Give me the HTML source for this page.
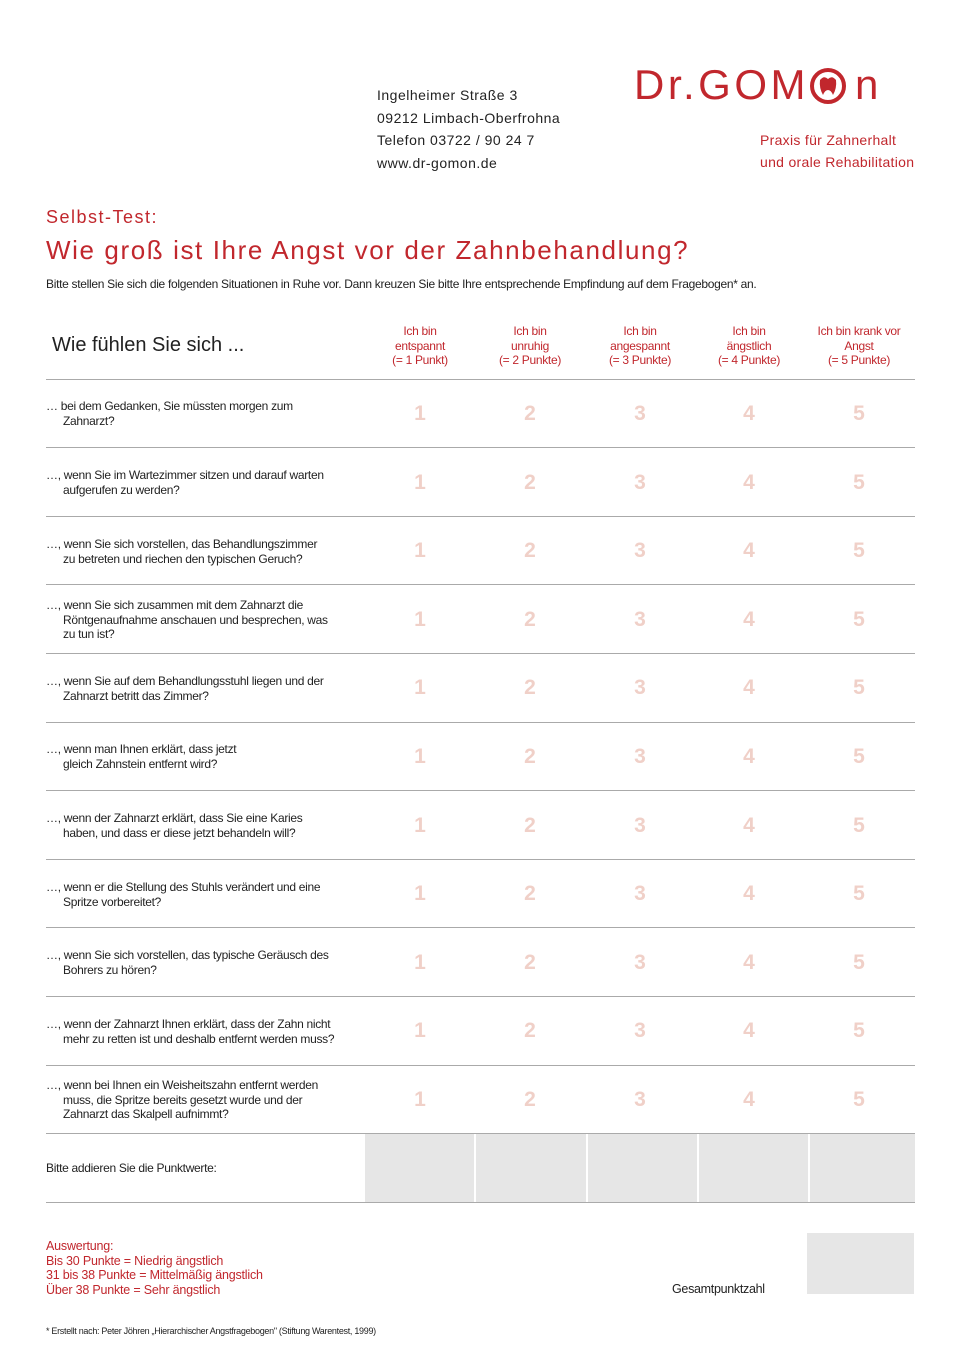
<!DOCTYPE html>
<html><head><meta charset="utf-8"><style>
body{margin:0;background:#fff;width:960px;height:1358px;position:relative;font-family:"Liberation Sans",sans-serif;overflow:hidden}
.a{position:absolute;white-space:nowrap}
.red{color:#c1272d}
.hl{position:absolute;left:46px;width:869px;height:1px;background:#aaa}
.q{position:absolute;left:46px;font-size:12px;line-height:14.5px;color:#222;letter-spacing:-0.3px}
.q span{padding-left:17px}
.n{position:absolute;width:40px;text-align:center;font-size:21px;font-weight:bold;color:#f0d0c8}
.h{position:absolute;width:110px;text-align:center;font-size:12px;line-height:14.5px;color:#c1272d;letter-spacing:-0.3px}
.g{position:absolute;background:#e6e6e6}
</style></head><body>
<div class="a" style="left:377px;top:84px;font-size:14px;line-height:22.5px;color:#222;letter-spacing:0.5px">Ingelheimer Straße 3<br>09212 Limbach-Oberfrohna<br>Telefon 03722 / 90 24 7<br>www.dr-gomon.de</div>
<div class="a red" style="left:634px;top:60px;font-size:42px;letter-spacing:3.5px;line-height:50px">Dr.GOM<span style="display:inline-block;width:46px"></span>n</div>
<svg style="position:absolute;left:805px;top:66px" width="48" height="40"><circle cx="23" cy="20" r="16" fill="none" stroke="#c1272d" stroke-width="4"/><path d="M15 14 q4-5 8-1 q4-4 8 1 q1 8-3 15 q-2-5-5-5 q-3 0-5 5 q-4-7-3-15z" fill="#c1272d"/></svg>
<div class="a red" style="left:760px;top:129px;font-size:14px;line-height:22px;letter-spacing:0.3px">Praxis für Zahnerhalt<br>und orale Rehabilitation</div>
<div class="a red" style="left:46px;top:207px;font-size:18px;letter-spacing:1.5px">Selbst-Test:</div>
<div class="a red" style="left:46px;top:235px;font-size:26px;letter-spacing:1.6px">Wie groß ist Ihre Angst vor der Zahnbehandlung?</div>
<div class="a" style="left:46px;top:277px;font-size:12px;color:#222;letter-spacing:-0.3px">Bitte stellen Sie sich die folgenden Situationen in Ruhe vor. Dann kreuzen Sie bitte Ihre entsprechende Empfindung auf dem Fragebogen* an.</div>
<div class="a" style="left:52px;top:334px;font-size:20px;color:#222">Wie fühlen Sie sich ...</div>
<div class="h" style="left:365px;top:324px">Ich bin<br>entspannt<br>(= 1 Punkt)</div>
<div class="h" style="left:475px;top:324px">Ich bin<br>unruhig<br>(= 2 Punkte)</div>
<div class="h" style="left:585px;top:324px">Ich bin<br>angespannt<br>(= 3 Punkte)</div>
<div class="h" style="left:694px;top:324px">Ich bin<br>ängstlich<br>(= 4 Punkte)</div>
<div class="h" style="left:804px;top:324px">Ich bin krank vor<br>Angst<br>(= 5 Punkte)</div>
<div class="hl" style="top:379px"></div><div class="hl" style="top:447px"></div><div class="hl" style="top:516px"></div><div class="hl" style="top:584px"></div><div class="hl" style="top:653px"></div><div class="hl" style="top:722px"></div><div class="hl" style="top:790px"></div><div class="hl" style="top:859px"></div><div class="hl" style="top:927px"></div><div class="hl" style="top:996px"></div><div class="hl" style="top:1065px"></div><div class="hl" style="top:1133px"></div><div class="hl" style="top:1202px"></div>
<div class="q" style="top:399px">… bei dem Gedanken, Sie müssten morgen zum<br><span>Zahnarzt?</span></div>
<div class="q" style="top:468px">…, wenn Sie im Wartezimmer sitzen und darauf warten<br><span>aufgerufen zu werden?</span></div>
<div class="q" style="top:537px">…, wenn Sie sich vorstellen, das Behandlungszimmer<br><span>zu betreten und riechen den typischen Geruch?</span></div>
<div class="q" style="top:598px">…, wenn Sie sich zusammen mit dem Zahnarzt die<br><span>Röntgenaufnahme anschauen und besprechen, was</span><br><span>zu tun ist?</span></div>
<div class="q" style="top:674px">…, wenn Sie auf dem Behandlungsstuhl liegen und der<br><span>Zahnarzt betritt das Zimmer?</span></div>
<div class="q" style="top:742px">…, wenn man Ihnen erklärt, dass jetzt<br><span>gleich Zahnstein entfernt wird?</span></div>
<div class="q" style="top:811px">…, wenn der Zahnarzt erklärt, dass Sie eine Karies<br><span>haben, und dass er diese jetzt behandeln will?</span></div>
<div class="q" style="top:880px">…, wenn er die Stellung des Stuhls verändert und eine<br><span>Spritze vorbereitet?</span></div>
<div class="q" style="top:948px">…, wenn Sie sich vorstellen, das typische Geräusch des<br><span>Bohrers zu hören?</span></div>
<div class="q" style="top:1017px">…, wenn der Zahnarzt Ihnen erklärt, dass der Zahn nicht<br><span>mehr zu retten ist und deshalb entfernt werden muss?</span></div>
<div class="q" style="top:1078px">…, wenn bei Ihnen ein Weisheitszahn entfernt werden<br><span>muss, die Spritze bereits gesetzt wurde und der</span><br><span>Zahnarzt das Skalpell aufnimmt?</span></div>
<div id="nums"></div>
<script>
var tops=[402,471,539,608,676,745,814,882,951,1019,1088],xs=[400,510,620,729,839],h='';
tops.forEach(function(t){xs.forEach(function(x,i){h+='<div class="n" style="left:'+x+'px;top:'+t+'px">'+(i+1)+'</div>';});});
document.getElementById('nums').innerHTML=h;
</script>
<div class="g" style="left:365px;top:1134px;width:109px;height:68px"></div>
<div class="g" style="left:476px;top:1134px;width:110px;height:68px"></div>
<div class="g" style="left:588px;top:1134px;width:109px;height:68px"></div>
<div class="g" style="left:699px;top:1134px;width:109px;height:68px"></div>
<div class="g" style="left:810px;top:1134px;width:105px;height:68px"></div>
<div class="a" style="left:46px;top:1161px;font-size:12px;color:#222;letter-spacing:-0.3px">Bitte addieren Sie die Punktwerte:</div>
<div class="a red" style="left:46px;top:1239px;font-size:12.5px;line-height:14.5px;letter-spacing:-0.2px">Auswertung:<br>Bis 30 Punkte = Niedrig ängstlich<br>31 bis 38 Punkte = Mittelmäßig ängstlich<br>Über 38 Punkte = Sehr ängstlich</div>
<div class="a" style="left:672px;top:1282px;font-size:12.5px;color:#222;letter-spacing:-0.3px">Gesamtpunktzahl</div>
<div class="g" style="left:807px;top:1233px;width:107px;height:61px"></div>
<div class="a" style="left:46px;top:1326px;font-size:9px;color:#222;letter-spacing:-0.3px">* Erstellt nach: Peter Jöhren „Hierarchischer Angstfragebogen" (Stiftung Warentest, 1999)</div>
</body></html>
